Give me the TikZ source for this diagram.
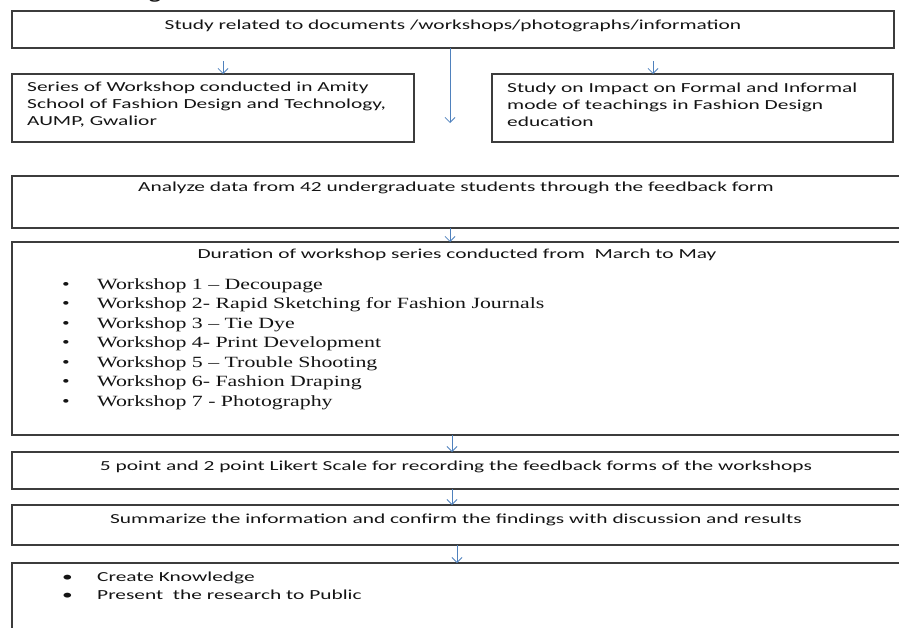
\documentclass[tikz,border=0pt]{standalone}
\usepackage{fontspec}
\usetikzlibrary{arrows.meta}
\newfontfamily\calfnt{Carlito}[FakeStretch=1.55]
\newfontfamily\tmsfnt{Liberation Serif}[FakeStretch=1.4]
\definecolor{boxline}{RGB}{60,60,60}
\definecolor{arrowblue}{RGB}{79,129,189}
\definecolor{txt}{RGB}{20,20,20}
\tikzset{
  box/.style={draw=boxline, line width=1.1pt, rectangle, inner sep=0pt, outer sep=0pt, anchor=north west},
  caltext/.style={inner sep=0pt, text=txt, font=\calfnt\fontsize{13.8}{17}\selectfont},
  caltextl/.style={caltext, align=left, anchor=west},
  tmslist/.style={inner sep=0pt, text=txt, align=left, anchor=west, font=\tmsfnt\fontsize{15.6}{19.5}\selectfont},
  calist/.style={inner sep=0pt, text=txt, align=left, anchor=west, font=\calfnt\fontsize{13.8}{18}\selectfont},
  arr/.style={draw=arrowblue, line width=0.8pt, -{Straight Barb[length=5pt,width=10pt]}}
}
\newcommand{\bul}{\makebox[36pt][l]{\hspace{1pt}\textbullet}}
\newcommand{\tbul}{\makebox[36pt][l]{\hspace{1pt}{\tmsfnt\textbullet}}}
\begin{document}
\begin{tikzpicture}[x=1pt,y=-1pt]
\useasboundingbox (0,0) rectangle (899,627);
\clip (0,0) rectangle (899,627);
% cut-off title fragment
\node[inner sep=0pt, text=txt, font=\calfnt\bfseries\fontsize{16}{18}\selectfont, anchor=base] (ttl) at (155,-0.5) {g};
% boxes
\node[box, minimum width=882pt, minimum height=37pt] (top) at (12,11) {};
\node[box, minimum width=402pt, minimum height=68pt] (left) at (12,74) {};
\node[box, minimum width=401pt, minimum height=68pt] (right) at (492,74) {};
\node[box, minimum width=893pt, minimum height=52pt] (analyze) at (12,176) {};
\node[box, minimum width=893pt, minimum height=193pt] (duration) at (12,242) {};
\node[box, minimum width=893pt, minimum height=37pt] (likert) at (12,452) {};
\node[box, minimum width=893pt, minimum height=40pt] (summ) at (12,505) {};
\node[box, minimum width=893pt, minimum height=80pt] (last) at (12,563) {};
% texts
\node[caltext] (ttop) at (453,26) {Study related to documents /workshops/photographs/information};
\node[caltextl] (tleft) at (27,105) {Series of Workshop conducted in Amity\\School of Fashion Design and Technology,\\AUMP, Gwalior};
\node[caltextl] (tright) at (507,105) {Study on Impact on Formal and Informal\\mode of teachings in Fashion Design\\education};
\node[caltext] (tanalyze) at (456,188) {Analyze data from 42 undergraduate students through the feedback form};
\node[caltext] (tdur) at (457,255) {Duration of workshop series conducted from~ March to May};
\node[tmslist] (tlist) at (61,344) {\tbul Workshop 1 – Decoupage\\
\tbul Workshop 2- Rapid Sketching for Fashion Journals\\
\tbul Workshop 3 – Tie Dye\\
\tbul Workshop 4- Print Development\\
\tbul Workshop 5 – Trouble Shooting\\
\tbul Workshop 6- Fashion Draping\\
\tbul Workshop 7 - Photography};
\node[caltext] (tlikert) at (456,467) {5 point and 2 point Likert Scale for recording the feedback forms of the workshops};
\node[caltext] (tsumm) at (456,520) {Summarize the information and confirm the findings with discussion and results};
\node[calist] (tlast) at (61,586) {\bul Create Knowledge\\ \bul Present~ the research to Public};
% arrows
\coordinate (a1) at (223,61);
\coordinate (a2) at (653,61);
\coordinate (a3) at (450,123);
\coordinate (a4) at (450,200);
\coordinate (a5) at (452,440);
\coordinate (a6) at (452,495);
\coordinate (a7) at (457,550);
\draw[arr] (a1) -- (left.north -| a1);
\draw[arr] (a2) -- (right.north -| a2);
\draw[arr] (top.south -| a3) -- (a3);
\draw[arr] (analyze.south -| a4) -- (duration.north -| a4);
\draw[arr] (duration.south -| a5) -- (likert.north -| a5);
\draw[arr] (likert.south -| a6) -- (summ.north -| a6);
\draw[arr] (summ.south -| a7) -- (last.north -| a7);
\end{tikzpicture}
\end{document}
